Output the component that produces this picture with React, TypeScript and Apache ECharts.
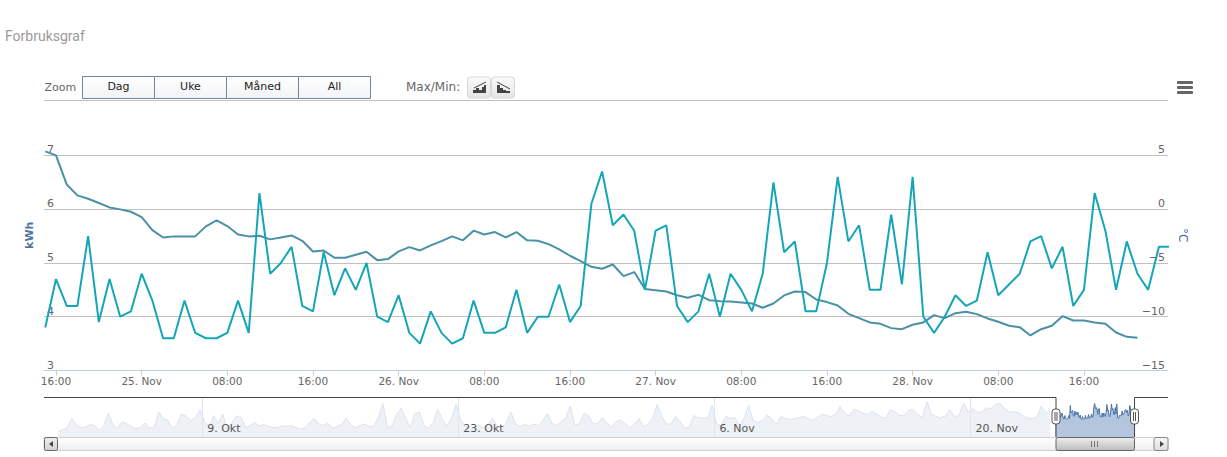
import React, { useEffect, useRef } from "react";
import * as echarts from "echarts";

const FIRST_HOUR = 15; // hours after 24. Nov 00:00
const kwh = [3.8,4.7,4.2,4.2,5.5,3.9,4.7,4.0,4.1,4.8,4.3,3.6,3.6,4.3,3.7,3.6,3.6,3.7,4.3,3.7,6.3,4.8,5.0,5.3,4.2,4.1,5.2,4.4,4.9,4.5,5.0,4.0,3.9,4.4,3.7,3.5,
  4.1,3.7,3.5,3.6,4.3,3.7,3.7,3.8,4.5,3.7,4.0,4.0,4.6,3.9,4.2,6.1,6.7,5.7,5.9,5.6,4.5,5.6,5.7,4.2,3.9,4.1,4.8,4.0,4.8,4.5,4.1,4.8,6.5,5.2,5.4,4.1,4.1,
  5.0,6.6,5.4,5.7,4.5,4.5,5.9,4.6,6.6,4.0,3.7,4.0,4.4,4.2,4.3,5.2,4.4,4.6,4.8,5.4,5.5,4.9,5.3,4.2,4.5,6.3,5.6,4.5,5.4,4.8,4.5,5.3,5.3];
const celsius = [5.37,5.0,2.3,1.28,0.97,0.57,0.16,-0.02,-0.24,-0.74,-1.95,-2.63,-2.53,-2.53,-2.53,-1.6,-1.05,-1.57,-2.35,-2.53,-2.47,-2.81,-2.63,-2.44,-2.94,-3.93,-3.84,-4.52,-4.52,-4.24,-3.96,-4.74,-4.64,-3.93,-3.53,-3.84,
  -3.37,-2.97,-2.53,-2.9,-2.0,-2.35,-2.13,-2.63,-2.13,-2.9,-2.94,-3.25,-3.74,-4.33,-4.83,-5.36,-5.54,-5.14,-6.22,-5.85,-7.43,-7.53,-7.65,-8.0,-8.24,-7.96,-8.46,-8.55,-8.58,-8.67,-8.77,-9.17,-8.77,-8.02,-7.65,-7.71,-8.4,
  -8.64,-8.95,-9.73,-10.13,-10.53,-10.66,-11.06,-11.16,-10.75,-10.53,-9.85,-10.13,-9.67,-9.54,-9.76,-10.16,-10.47,-10.84,-10.97,-11.74,-11.16,-10.84,-9.95,-10.35,-10.35,-10.53,-10.66,-11.47,-11.87,-11.96];

// Navigator: six-hourly history
const NAV_FIRST_DAY = -7.875; // days relative to 9. Okt
const NAV_STEP_DAYS = 0.25;
const history = [1.1,1.4,1.9,3.7,2.5,1.8,1.9,2.5,2.3,1.3,2.3,4.8,2.5,1.8,3.1,2.6,2.1,1.6,1.9,2.8,1.9,1.8,5.0,3.7,3.3,1.7,2.5,4.6,4.1,3.3,3.8,5.5,3.1,1.9,4.3,2.7,4.6,1.5,2.9,4.2,3.9,1.8,2.3,2.9,2.2,2.5,2.1,1.9,1.9,2.3,2.1,2.3,1.9,1.6,1.8,2.9,3.7,2.6,2.3,2.7,
  1.8,2.1,2.5,3.8,2.3,1.9,2.3,2.6,2.1,2.2,3.8,6.7,1.8,2.2,4.5,5.8,3.7,1.8,4.6,5.0,2.3,1.8,2.8,5.5,3.5,2.1,3.7,6.5,3.5,2.1,1.9,1.8,2.3,1.9,2.5,3.7,2.1,1.9,2.9,5.0,2.6,2.1,2.5,2.2,2.6,2.3,3.3,4.7,2.7,2.3,3.1,3.8,6.2,2.5,2.6,4.7,4.2,2.6,2.7,
  3.9,2.8,1.9,3.1,3.4,2.6,1.8,2.5,3.7,2.1,2.5,3.8,6.5,4.1,2.6,2.6,4.1,3.1,1.8,1.9,4.3,3.8,3.8,3.7,6.3,2.6,2.3,4.1,3.7,3.9,2.3,3.8,6.3,3.3,2.9,3.3,4.3,3.8,2.5,4.1,3.7,3.5,3.7,3.9,4.1,3.7,3.3,3.9,4.6,4.3,4.1,4.6,6.1,4.7,4.2,5.5,5.3,4.7,4.5,
  5.1,4.6,3.9,3.8,5.4,5.0,4.3,4.3,5.4,5.4,4.5,3.8,7.1,4.5,4.1,3.9,4.1,5.5,4.1,4.3,6.8,5.0,5.7,4.9,5.0,5.8,5.7,6.6,6.7,5.7,5.0,5.0,4.9,4.2,3.8,3.7,3.9,6.2,4.8,5.3];
const SELECTED_FIRST_DAY = 46.625; // 24. Nov 15:00

const zoomButtons = ["Dag", "Uke", "Måned", "All"];
const hourTicks = [16,24,32,40,48,56,64,72,80,88,96,104,112];
const kwhTicks = [3,4,5,6,7];
const celsiusTicks = [-15,-10,-5,0,5];
const navTicks = [0,14,28,42];
const navTickNames = ["9. Okt","23. Okt","6. Nov","20. Nov"];

const BRIGHT = "#14a6b8";
const DARK = "#4a90a6";
const FONT = '"DejaVu Sans", sans-serif';

const hourLabel = (h: number) => {
  const hh = h % 24;
  if (hh === 0) return `${24 + h / 24}. Nov`;
  return `${String(hh).padStart(2, "0")}:00`;
};

const grad = (a: string, b: string) => new echarts.graphic.LinearGradient(0, 0, 0, 1, [{ offset: 0, color: a }, { offset: 1, color: b }]);

export default function App() {
  const ref = useRef<HTMLDivElement>(null);
  useEffect(() => {
    const chart = echarts.init(ref.current!, undefined, { renderer: "svg" });
    const line = (x1: number, y1: number, x2: number, y2: number, stroke: string, lineWidth = 1, z = 10) => ({
      type: "line", z, silent: true, shape: { x1, y1, x2, y2 }, style: { stroke, lineWidth },
    });
    const rect = (x: number, y: number, width: number, height: number, fill: any, stroke: string, r = 0, z = 10) => ({
      type: "rect", z, silent: true, shape: { x, y, width, height, r }, style: { fill, stroke, lineWidth: 1 },
    });
    const text = (t: string, x: number, y: number, fill: string, font: string, align = "left") => ({
      type: "text", z: 12, silent: true, style: { text: t, x, y, fill, font, textAlign: align, textVerticalAlign: "middle" },
    });
    const poly = (points: number[][], fill: string, z = 12) => ({
      type: "polygon", z, silent: true, shape: { points }, style: { fill },
    });

    const graphic: any[] = [
      text("Forbruksgraf", 5, 36, "#9a9a9a", '14px Roboto, sans-serif'),
      text("Zoom", 44.5, 87, "#666666", `11px ${FONT}`),
      text("Max/Min:", 406, 87, "#666666", `12px ${FONT}`),
      line(44, 100.5, 1168, 100.5, "#c0c0c0"),
      // range buttons
      ...zoomButtons.flatMap((b, i) => [
        rect(82.5 + i * 72, 76.5, 72, 22, grad("#ffffff", "#f1f3f6"), "#6d87a3"),
        text(b, 118.5 + i * 72, 86, "#222222", `11px ${FONT}`, "center"),
      ]),
      // max / min buttons
      rect(467.5, 77, 23, 21, grad("#fbfbfb", "#e4e4e4"), "#d8d8d8", 3),
      rect(491.5, 77, 23, 21, grad("#fbfbfb", "#e4e4e4"), "#d8d8d8", 3),
      poly([[473,93],[473,90],[476,90],[476,88],[479,88],[479,90],[482,90],[482,87],[484,87],[484,85],[486,85],[486,93]], "#444444"),
      line(474, 88, 486, 82, "#444444"),
      poly([[497,93],[497,85],[500,85],[500,88],[503,88],[503,90],[506,90],[506,91],[510,91],[510,93]], "#444444"),
      line(497, 82, 510, 89, "#444444"),
      // export menu
      rect(1177, 81, 16, 3, "#666666", "none", 1),
      rect(1177, 86, 16, 3, "#666666", "none", 1),
      rect(1177, 91, 16, 3, "#666666", "none", 1),
      // navigator outline
      line(44, 397.5, 1056, 397.5, "#444444"),
      line(1134.5, 397.5, 1168, 397.5, "#444444"),
      line(1056, 397.5, 1056, 437, "#444444"),
      line(1134.5, 397.5, 1134.5, 437, "#444444"),
      // scrollbar
      rect(44, 437.5, 1124, 13, grad("#ffffff", "#efefef"), "#d0d0d0"),
      rect(44.5, 437.5, 13, 13, grad("#f2f2f2", "#cfcfcf"), "#666666", 2),
      poly([[53,441],[53,447],[49,444]], "#444444"),
      rect(1154, 437.5, 14, 13, grad("#f7f7f7", "#dddddd"), "#888888", 2),
      poly([[1160,441],[1160,447],[1164,444]], "#444444"),
      rect(1056, 437.5, 78.5, 13, grad("#eeeeee", "#bdbdbd"), "#666666", 2),
      line(1091.5, 441, 1091.5, 447, "#777777"),
      line(1094.5, 441, 1094.5, 447, "#777777"),
      line(1097.5, 441, 1097.5, 447, "#777777"),
      // navigator handles
      ...[1056, 1134.5].flatMap((x) => [
        rect(x - 4, 409, 8, 15, "#ffffff", "#555555", 3, 13),
        line(x - 1, 412, x - 1, 421, "#555555", 1, 14),
        line(x + 1, 412, x + 1, 421, "#555555", 1, 14),
      ]),
    ];

    const axisFont = { fontFamily: FONT, fontSize: 10.5, color: "#666666" };
    chart.setOption({
      animation: false,
      backgroundColor: "#ffffff",
      graphic,
      grid: [
        { left: 44, right: 59, top: 100, height: 270.5 },
        { left: 44, right: 59, top: 398, height: 39 },
      ],
      xAxis: [
        {
          type: "value", gridIndex: 0, min: 14.88, max: 119.85,
          axisLine: { show: true, onZero: false, lineStyle: { color: "#c0d0e0" } },
          axisTick: { show: true, length: 5, customValues: hourTicks, lineStyle: { color: "#c0d0e0" } },
          axisLabel: { customValues: hourTicks, formatter: (v: number) => hourLabel(v), margin: 5, ...axisFont },
          splitLine: { show: false },
        },
        {
          type: "value", gridIndex: 1, min: -8.65, max: 52.8, z: 5,
          axisLine: { show: false, onZero: false },
          axisTick: { show: false, customValues: navTicks },
          axisLabel: {
            inside: true, customValues: navTicks, align: "left", margin: 3, padding: [0, 0, 0, 5],
            formatter: (v: number) => navTickNames[navTicks.indexOf(v)], fontFamily: FONT, fontSize: 11, color: "#555555",
          },
          splitLine: { show: true, lineStyle: { color: "#e1e4e9", width: 1 } },
        },
      ],
      yAxis: [
        {
          type: "value", gridIndex: 0, min: 3, max: 8.03,
          name: "kWh", nameLocation: "middle", nameRotate: 90, nameGap: 9,
          nameTextStyle: { color: "#4d759e", fontWeight: "bold", fontSize: 11, fontFamily: FONT },
          axisLine: { show: false }, axisTick: { show: false, customValues: kwhTicks },
          axisLabel: { inside: true, customValues: kwhTicks, margin: 3, verticalAlign: "bottom", ...axisFont, fontSize: 11 },
          splitLine: { show: true, lineStyle: { color: "#c0c0c0", width: 1 } },
        },
        {
          type: "value", gridIndex: 0, position: "right", min: -15, max: 10.15,
          name: "°C", nameLocation: "middle", nameRotate: -90, nameGap: 9,
          nameTextStyle: { color: "#4d6a9e", fontSize: 12, fontFamily: FONT },
          axisLine: { show: false }, axisTick: { show: false, customValues: celsiusTicks },
          axisLabel: { inside: true, customValues: celsiusTicks, margin: 3, verticalAlign: "bottom", formatter: (v: number) => String(v).replace("-", "−"), ...axisFont, fontSize: 11 },
          splitLine: { show: false },
        },
        { type: "value", gridIndex: 1, min: 0, max: 7.8, show: false, splitLine: { show: false } },
      ],
      series: [
        {
          name: "Temperatur", type: "line", xAxisIndex: 0, yAxisIndex: 1, showSymbol: false,
          lineStyle: { color: DARK, width: 2 }, itemStyle: { color: DARK },
          data: celsius.map((v, i) => [FIRST_HOUR + i, v]),
        },
        {
          name: "Forbruk", type: "line", xAxisIndex: 0, yAxisIndex: 0, showSymbol: false,
          lineStyle: { color: BRIGHT, width: 2 }, itemStyle: { color: BRIGHT },
          data: kwh.map((v, i) => [FIRST_HOUR + i, v]),
        },
        {
          name: "Historikk", type: "line", xAxisIndex: 1, yAxisIndex: 2, showSymbol: false,
          lineStyle: { color: "#dbe2ed", width: 1 }, areaStyle: { color: "#eef2f7", opacity: 1 },
          data: history.map((v, i) => [NAV_FIRST_DAY + i * NAV_STEP_DAYS, v]),
        },
        {
          name: "Utvalg", type: "line", xAxisIndex: 1, yAxisIndex: 2, showSymbol: false,
          lineStyle: { color: "#4a74a8", width: 1 }, areaStyle: { color: "#b3c6de", opacity: 1 },
          data: kwh.map((v, i) => [SELECTED_FIRST_DAY + i / 24, v]),
        },
      ],
    });
    return () => chart.dispose();
  }, []);
  return <div ref={ref} style={{ position: "absolute", left: 0, top: 0, width: 1227, height: 457 }} />;
}
